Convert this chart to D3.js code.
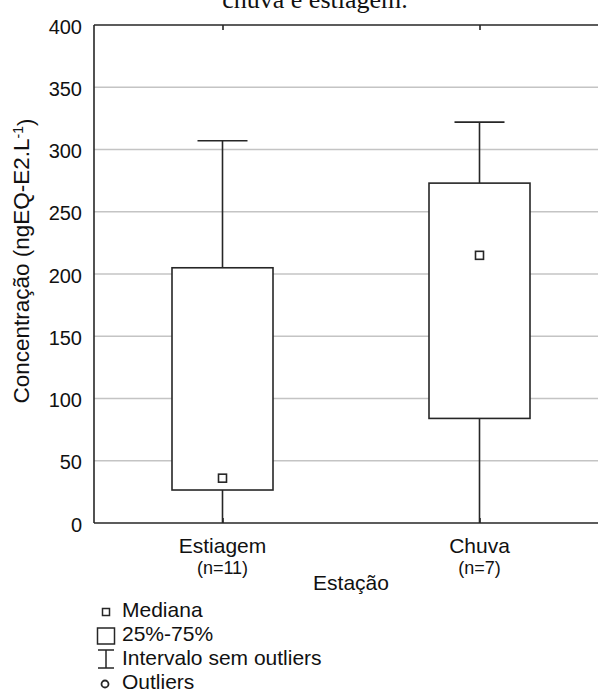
<!DOCTYPE html>
<html>
<head>
<meta charset="utf-8">
<script src="https://cdn.jsdelivr.net/npm/d3@7"></script>
<style>
  html, body { margin: 0; padding: 0; background: #fff; overflow: hidden; }
  svg { display: block; }
  text { font-family: "Liberation Sans", Arial, sans-serif; fill: #111; }
</style>
</head>
<body>
<svg id="chart" width="598" height="693"></svg>
<script>
// Concentration per season (ngEQ-E2/L): box-and-whisker summary
const categories = ["Estiagem", "Chuva"];
const sampleSizes = [11, 7];
const whiskerLow = [0, 0];
const quartile1 = [26.5, 84];
const medians = [36, 215];
const quartile3 = [205, 273];
const whiskerHigh = [307, 322];
const yTicks = [0, 50, 100, 150, 200, 250, 300, 350, 400];

const stats = categories.map((c, i) => ({
  name: c, n: sampleSizes[i], lo: whiskerLow[i], q1: quartile1[i],
  med: medians[i], q3: quartile3[i], hi: whiskerHigh[i]
}));

const svg = d3.select("#chart");
const plotLeft = 94, plotRight = 608, plotTop = 25, plotBottom = 523;

const x = d3.scalePoint().domain(categories).range([plotLeft, plotRight]).padding(0.5);
const y = d3.scaleLinear().domain([0, 400]).range([plotBottom, plotTop]);

const dark = "#262626";

// title (partly above the top edge)
svg.append("text")
  .attr("x", 315).attr("y", 8)
  .attr("text-anchor", "middle")
  .style("font-family", "'Liberation Serif', 'Times New Roman', serif")
  .style("font-size", "26px")
  .text("chuva e estiagem.");

// horizontal grid lines
svg.append("g")
  .selectAll("line")
  .data(yTicks.filter(t => t > 0 && t < 400))
  .join("line")
  .attr("x1", plotLeft).attr("x2", plotRight)
  .attr("y1", d => y(d)).attr("y2", d => y(d))
  .attr("stroke", "#c4c4c4").attr("stroke-width", 1.5);

// left axis with labels
const yAxis = d3.axisLeft(y).tickValues(yTicks).tickSize(0).tickPadding(12);
const gy = svg.append("g").attr("transform", `translate(${plotLeft},0)`).call(yAxis);
gy.select(".domain").remove();
gy.selectAll("text")
  .attr("dy", "0.4em")
  .style("font-size", "20px")
  .style("font-family", "'Liberation Sans', Arial, sans-serif")
  .attr("fill", "#111");

// frame
svg.append("line").attr("x1", plotLeft).attr("x2", plotLeft).attr("y1", plotTop).attr("y2", plotBottom)
  .attr("stroke", dark).attr("stroke-width", 1.6);
svg.append("line").attr("x1", plotLeft).attr("x2", plotRight).attr("y1", plotTop).attr("y2", plotTop)
  .attr("stroke", dark).attr("stroke-width", 1.6);
svg.append("line").attr("x1", plotLeft).attr("x2", plotRight).attr("y1", plotBottom).attr("y2", plotBottom)
  .attr("stroke", dark).attr("stroke-width", 1.6);

// category ticks on top and bottom edges (pointing inward)
const xTop = d3.axisBottom(x).tickSize(5).tickFormat("");
const gt = svg.append("g").attr("transform", `translate(0,${plotTop})`).call(xTop);
gt.select(".domain").remove();
gt.selectAll("line").attr("stroke", dark).attr("stroke-width", 1.6);
const xBot = d3.axisTop(x).tickSize(5).tickFormat("");
const gb = svg.append("g").attr("transform", `translate(0,${plotBottom})`).call(xBot);
gb.select(".domain").remove();
gb.selectAll("line").attr("stroke", dark).attr("stroke-width", 1.6);

// boxes
const boxW = 101, capW = 50, medS = 8;
const boxes = svg.append("g").selectAll("g").data(stats).join("g");

boxes.append("line")
  .attr("x1", d => x(d.name)).attr("x2", d => x(d.name))
  .attr("y1", d => y(d.hi)).attr("y2", d => y(d.q3))
  .attr("stroke", dark).attr("stroke-width", 1.6);
boxes.append("line")
  .attr("x1", d => x(d.name)).attr("x2", d => x(d.name))
  .attr("y1", d => y(d.q1)).attr("y2", d => y(d.lo))
  .attr("stroke", dark).attr("stroke-width", 1.6);
boxes.append("line")
  .attr("x1", d => x(d.name) - capW / 2).attr("x2", d => x(d.name) + capW / 2)
  .attr("y1", d => y(d.hi)).attr("y2", d => y(d.hi))
  .attr("stroke", dark).attr("stroke-width", 1.6);
boxes.append("rect")
  .attr("x", d => x(d.name) - boxW / 2).attr("width", boxW)
  .attr("y", d => y(d.q3)).attr("height", d => y(d.q1) - y(d.q3))
  .attr("fill", "#fff").attr("stroke", dark).attr("stroke-width", 1.6);
boxes.append("rect")
  .attr("x", d => x(d.name) - medS / 2).attr("width", medS)
  .attr("y", d => y(d.med) - medS / 2).attr("height", medS)
  .attr("fill", "#fff").attr("stroke", dark).attr("stroke-width", 1.6);

// category labels
const labels = svg.append("g").selectAll("g").data(stats).join("g")
  .attr("transform", d => `translate(${x(d.name)},0)`);
labels.append("text").attr("y", 553).attr("text-anchor", "middle")
  .style("font-size", "21px").text(d => d.name);
labels.append("text").attr("y", 574).attr("text-anchor", "middle")
  .style("font-size", "18px").text(d => `(n=${d.n})`);

// axis titles
svg.append("text")
  .attr("x", (plotLeft + plotRight) / 2).attr("y", 590)
  .attr("text-anchor", "middle").style("font-size", "21px")
  .text("Estação");

const yt = svg.append("text")
  .attr("transform", `translate(29,261) rotate(-90)`)
  .attr("text-anchor", "middle").style("font-size", "22.5px");
yt.append("tspan").text("Concentração (ngEQ-E2.L");
yt.append("tspan").attr("dy", "-0.45em").style("font-size", "14px").text("-1");
yt.append("tspan").attr("dy", "0.45em").text(")");

// legend
const legendItems = ["Mediana", "25%-75%", "Intervalo sem outliers", "Outliers"];
const lg = svg.append("g");
const ly = i => 617 + i * 24;
lg.selectAll("text").data(legendItems).join("text")
  .attr("x", 122).attr("y", (d, i) => ly(i))
  .style("font-size", "21px").text(d => d);

const cx = 106;
lg.append("rect").attr("x", cx - 3.5).attr("y", ly(0) - 8.5).attr("width", 7).attr("height", 7)
  .attr("fill", "#fff").attr("stroke", dark).attr("stroke-width", 1.5);
lg.append("rect").attr("x", cx - 8.5).attr("y", ly(1) - 13).attr("width", 17).attr("height", 16)
  .attr("fill", "#fff").attr("stroke", dark).attr("stroke-width", 1.5);
lg.append("path")
  .attr("d", `M${cx - 8},${ly(2) - 15}H${cx + 8}M${cx},${ly(2) - 15}V${ly(2) + 3}M${cx - 8},${ly(2) + 3}H${cx + 8}`)
  .attr("fill", "none").attr("stroke", dark).attr("stroke-width", 1.5);
lg.append("circle").attr("cx", cx - 1).attr("cy", ly(3) - 5).attr("r", 3.5)
  .attr("fill", "#fff").attr("stroke", dark).attr("stroke-width", 1.8);
</script>
</body>
</html>
